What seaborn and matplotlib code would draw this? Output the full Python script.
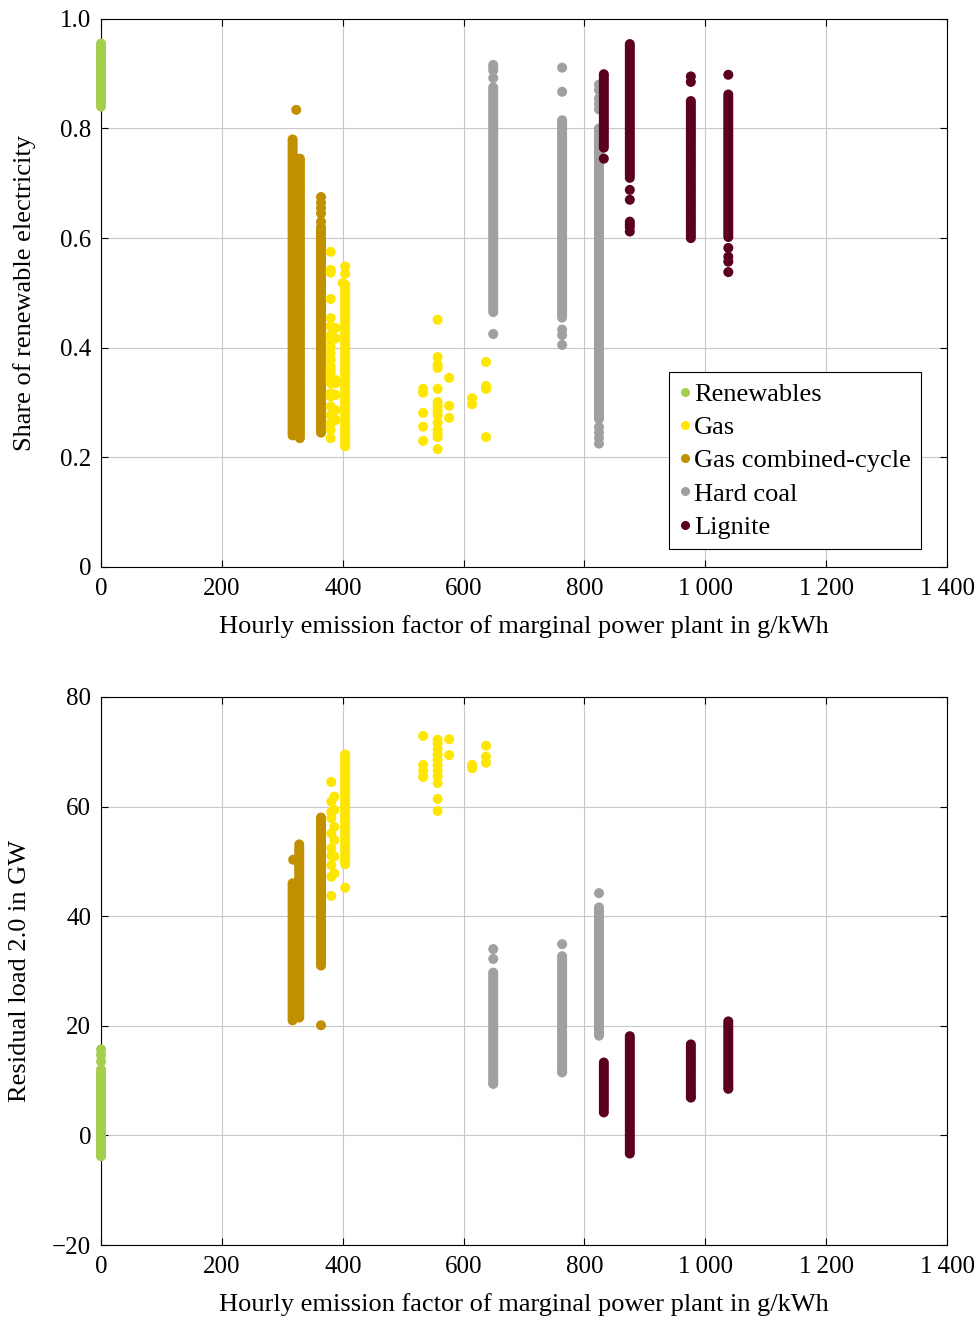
import matplotlib
matplotlib.use("Agg")
import matplotlib.pyplot as plt
import pandas as pd
import seaborn as sns
from matplotlib.lines import Line2D

# ---------------- categories / colours ----------------
labels = ["Renewables", "Gas", "Gas combined-cycle", "Hard coal", "Lignite"]
colors = ["#a6ce4e", "#ffe600", "#c09000", "#a0a0a0", "#5c001f"]

x_ticks = [0, 200, 400, 600, 800, 1000, 1200, 1400]
x_tick_labels = ["0", "200", "400", "600", "800", "1\u2009000", "1\u2009200", "1\u2009400"]
share_ticks = [0, 0.2, 0.4, 0.6, 0.8, 1.0]
share_tick_labels = ["0", "0.2", "0.4", "0.6", "0.8", "1.0"]
load_ticks = [-20, 0, 20, 40, 60, 80]
load_tick_labels = ["\u221220", "0", "20", "40", "60", "80"]

# ---------------- top panel: share of renewable electricity ----------------
ren_x_top = [0]
ren_share = [[.840, .845, .850, .855, .860, .865, .870, .875, .880, .885, .890, .895, .900, .905,
              .910, .915, .920, .925, .930, .935, .940, .945, .950, .955]]

gcc_x_top = [317, 329, 323, 364]
gcc_share = [
    [.240, .245, .250, .255, .260, .265, .270, .275, .280, .285, .290, .295, .300, .305, .310, .315,
     .320, .325, .330, .335, .340, .345, .350, .355, .360, .365, .370, .375, .380, .385, .390, .395,
     .400, .405, .410, .415, .420, .425, .430, .435, .440, .445, .450, .455, .460, .465, .470, .475,
     .480, .485, .490, .495, .500, .505, .510, .515, .520, .525, .530, .535, .540, .545, .550, .555,
     .560, .565, .570, .575, .580, .585, .590, .595, .600, .605, .610, .615, .620, .625, .630, .635,
     .640, .645, .650, .655, .660, .665, .670, .675, .680, .685, .690, .695, .700, .705, .710, .715,
     .720, .725, .730, .735, .740, .745, .750, .755, .760, .765, .770, .775, .780],
    [.235, .240, .245, .250, .255, .260, .265, .270, .275, .280, .285, .290, .295, .300, .305, .310,
     .315, .320, .325, .330, .335, .340, .345, .350, .355, .360, .365, .370, .375, .380, .385, .390,
     .395, .400, .405, .410, .415, .420, .425, .430, .435, .440, .445, .450, .455, .460, .465, .470,
     .475, .480, .485, .490, .495, .500, .505, .510, .515, .520, .525, .530, .535, .540, .545, .550,
     .555, .560, .565, .570, .575, .580, .585, .590, .595, .600, .605, .610, .615, .620, .625, .630,
     .635, .640, .645, .650, .655, .660, .665, .670, .675, .680, .685, .690, .695, .700, .705, .710,
     .715, .720, .725, .730, .735, .740, .745],
    [.834],
    [.675, .665, .655, .645, .630, .620, .615, .610, .605, .600, .595, .590, .585, .580, .575, .570,
     .565, .560, .555, .550, .545, .540, .535, .530, .525, .520, .515, .510, .505, .500, .495, .490,
     .485, .480, .475, .470, .465, .460, .455, .450, .445, .440, .435, .430, .425, .420, .415, .410,
     .405, .400, .395, .390, .385, .380, .375, .370, .365, .360, .355, .350, .345, .340, .335, .330,
     .325, .320, .315, .310, .305, .300, .295, .290, .285, .280, .275, .270, .265, .260, .255, .250,
     .245],
]

gas_x_top = [380, 388, 404, 400, 533, 557, 576, 614, 637]
gas_share = [
    [.575, .542, .537, .489, .454, .439, .423, .414, .402, .390, .378, .366, .360, .353, .347, .341,
     .335, .317, .311, .293, .277, .262, .250, .235],
    [.436, .417, .341, .335, .314, .286, .268],
    [.548, .535, .515, .510, .505, .500, .495, .490, .485, .480, .475, .470, .465, .460, .455, .450,
     .445, .440, .435, .430, .425, .420, .415, .410, .405, .400, .395, .390, .385, .380, .375, .370,
     .365, .360, .355, .350, .345, .340, .335, .330, .325, .320, .315, .310, .305, .300, .295, .290,
     .285, .280, .275, .270, .265, .260, .255, .250, .245, .240, .235, .230, .225, .220],
    [.518],
    [.325, .318, .281, .256, .230],
    [.451, .383, .369, .363, .325, .301, .293, .285, .277, .263, .250, .243, .237, .215],
    [.345, .294, .272],
    [.308, .297],
    [.374, .330, .325, .237],
]

hc_x_top = [649, 763, 824]
hc_share = [
    [.916, .912, .906, .892, .875, .870, .865, .860, .855, .850, .845, .840, .835, .830, .825, .820,
     .815, .810, .805, .800, .795, .790, .785, .780, .775, .770, .765, .760, .755, .750, .745, .740,
     .735, .730, .725, .720, .715, .710, .705, .700, .695, .690, .685, .680, .675, .670, .665, .660,
     .655, .650, .645, .640, .635, .630, .625, .620, .615, .610, .605, .600, .595, .590, .585, .580,
     .575, .570, .565, .560, .555, .550, .545, .540, .535, .530, .525, .520, .515, .510, .505, .500,
     .495, .490, .485, .480, .475, .470, .465, .425],
    [.911, .867, .815, .810, .805, .800, .795, .790, .785, .780, .775, .770, .765, .760, .755, .750,
     .745, .740, .735, .730, .725, .720, .715, .710, .705, .700, .695, .690, .685, .680, .675, .670,
     .665, .660, .655, .650, .645, .640, .635, .630, .625, .620, .615, .610, .605, .600, .595, .590,
     .585, .580, .575, .570, .565, .560, .555, .550, .545, .540, .535, .530, .525, .520, .515, .510,
     .505, .500, .495, .490, .485, .480, .475, .470, .465, .460, .455, .433, .423, .405],
    [.880, .870, .855, .845, .835, .800, .795, .790, .785, .780, .775, .770, .765, .760, .755, .750,
     .745, .740, .735, .730, .725, .720, .715, .710, .705, .700, .695, .690, .685, .680, .675, .670,
     .665, .660, .655, .650, .645, .640, .635, .630, .625, .620, .615, .610, .605, .600, .595, .590,
     .585, .580, .575, .570, .565, .560, .555, .550, .545, .540, .535, .530, .525, .520, .515, .510,
     .505, .500, .495, .490, .485, .480, .475, .470, .465, .460, .455, .450, .445, .440, .435, .430,
     .425, .420, .415, .410, .405, .400, .395, .390, .385, .380, .375, .370, .365, .360, .355, .350,
     .345, .340, .335, .330, .325, .320, .315, .310, .305, .300, .295, .290, .285, .280, .275, .270,
     .255, .245, .235, .225],
]

lig_x_top = [832, 875, 976, 1038]
lig_share = [
    [.899, .895, .890, .885, .880, .875, .870, .865, .860, .855, .850, .845, .840, .835, .830, .825,
     .820, .815, .810, .805, .800, .795, .790, .785, .780, .775, .770, .765, .745],
    [.954, .950, .945, .940, .935, .930, .925, .920, .915, .910, .905, .900, .895, .890, .885, .880,
     .875, .870, .865, .860, .855, .850, .845, .840, .835, .830, .825, .820, .815, .810, .805, .800,
     .795, .790, .785, .780, .775, .770, .765, .760, .755, .750, .745, .740, .735, .730, .725, .720,
     .715, .710, .688, .670, .630, .625, .620, .612],
    [.895, .885, .850, .845, .840, .835, .830, .825, .820, .815, .810, .805, .800, .795, .790, .785,
     .780, .775, .770, .765, .760, .755, .750, .745, .740, .735, .730, .725, .720, .715, .710, .705,
     .700, .695, .690, .685, .680, .675, .670, .665, .660, .655, .650, .645, .640, .635, .630, .625,
     .620, .615, .610, .605, .600],
    [.898, .862, .857, .852, .847, .842, .837, .832, .827, .822, .817, .812, .807, .802, .797, .792,
     .787, .782, .777, .772, .767, .762, .757, .752, .747, .742, .737, .732, .727, .722, .717, .712,
     .707, .702, .697, .692, .687, .682, .677, .672, .667, .662, .657, .652, .647, .642, .637, .632,
     .627, .622, .617, .612, .607, .602, .582, .566, .557, .538],
]

# ---------------- bottom panel: residual load 2.0 in GW ----------------
ren_x_bot = [0]
ren_load = [[15.7, 14.7, 13.5, 12.0, 11.5, 11.0, 10.5, 10.0, 9.5, 9.0, 8.5, 8.0, 7.5, 7.0, 6.5,
             6.0, 5.5, 5.0, 4.5, 4.0, 3.5, 3.0, 2.5, 2.0, 1.5, 1.0, 0.5, 0.0, -0.5, -1.0, -1.5,
             -2.0, -2.5, -3.0, -3.5, -3.8]]

gcc_x_bot = [317, 328, 318, 364]
gcc_load = [
    [21.0, 21.5, 22.0, 22.5, 23.0, 23.5, 24.0, 24.5, 25.0, 25.5, 26.0, 26.5, 27.0, 27.5, 28.0, 28.5,
     29.0, 29.5, 30.0, 30.5, 31.0, 31.5, 32.0, 32.5, 33.0, 33.5, 34.0, 34.5, 35.0, 35.5, 36.0, 36.5,
     37.0, 37.5, 38.0, 38.5, 39.0, 39.5, 40.0, 40.5, 41.0, 41.5, 42.0, 42.5, 43.0, 43.5, 44.0, 44.5,
     45.0, 45.5, 46.0],
    [21.5, 22.0, 22.5, 23.0, 23.5, 24.0, 24.5, 25.0, 25.5, 26.0, 26.5, 27.0, 27.5, 28.0, 28.5, 29.0,
     29.5, 30.0, 30.5, 31.0, 31.5, 32.0, 32.5, 33.0, 33.5, 34.0, 34.5, 35.0, 35.5, 36.0, 36.5, 37.0,
     37.5, 38.0, 38.5, 39.0, 39.5, 40.0, 40.5, 41.0, 41.5, 42.0, 42.5, 43.0, 43.5, 44.0, 44.5, 45.0,
     45.5, 46.0, 46.5, 47.0, 47.5, 48.0, 48.5, 49.0, 49.5, 50.0, 50.5, 51.0, 51.5, 52.0, 52.5, 53.1],
    [50.3],
    [58.0, 57.5, 57.0, 56.5, 56.0, 55.5, 55.0, 54.5, 54.0, 53.5, 53.0, 52.5, 52.0, 51.5, 51.0, 50.5,
     50.0, 49.5, 49.0, 48.5, 48.0, 47.5, 47.0, 46.5, 46.0, 45.5, 45.0, 44.5, 44.0, 43.5, 43.0, 42.5,
     42.0, 41.5, 41.0, 40.5, 40.0, 39.5, 39.0, 38.5, 38.0, 37.5, 37.0, 36.5, 36.0, 35.5, 35.0, 34.5,
     34.0, 33.5, 33.0, 32.5, 32.0, 31.5, 31.0, 20.1],
]

gas_x_bot = [381, 386, 404, 533, 557, 576, 614, 637]
gas_load = [
    [64.5, 60.9, 59.0, 57.9, 55.1, 52.4, 51.0, 49.3, 47.2, 43.7],
    [61.8, 59.4, 56.3, 53.9, 50.9, 47.8],
    [69.5, 69.0, 68.5, 68.0, 67.5, 67.0, 66.5, 66.0, 65.5, 65.0, 64.5, 64.0, 63.5, 63.0, 62.5, 62.0,
     61.5, 61.0, 60.5, 60.0, 59.5, 59.0, 58.5, 58.0, 57.5, 57.0, 56.5, 56.0, 55.5, 55.0, 54.5, 54.0,
     53.5, 53.0, 52.5, 52.0, 51.5, 51.0, 50.5, 50.0, 49.5, 45.2],
    [72.9, 67.6, 66.5, 65.4],
    [72.2, 71.5, 70.5, 69.5, 68.5, 67.5, 66.5, 65.5, 64.3, 61.4, 59.2],
    [72.3, 69.4],
    [67.6, 67.0],
    [71.1, 69.1, 68.0],
]

hc_x_bot = [649, 763, 824]
hc_load = [
    [34.0, 32.2, 29.7, 29.2, 28.7, 28.2, 27.7, 27.2, 26.7, 26.2, 25.7, 25.2, 24.7, 24.2, 23.7, 23.2,
     22.7, 22.2, 21.7, 21.2, 20.7, 20.2, 19.7, 19.2, 18.7, 18.2, 17.7, 17.2, 16.7, 16.2, 15.7, 15.2,
     14.7, 14.2, 13.7, 13.2, 12.7, 12.2, 11.7, 11.2, 10.7, 10.2, 9.7, 9.4],
    [34.9, 32.7, 32.2, 31.7, 31.2, 30.7, 30.2, 29.7, 29.2, 28.7, 28.2, 27.7, 27.2, 26.7, 26.2, 25.7,
     25.2, 24.7, 24.2, 23.7, 23.2, 22.7, 22.2, 21.7, 21.2, 20.7, 20.2, 19.7, 19.2, 18.7, 18.2, 17.7,
     17.2, 16.7, 16.2, 15.7, 15.2, 14.7, 14.2, 13.7, 13.2, 12.7, 12.2, 11.7, 11.5],
    [44.2, 41.6, 41.1, 40.6, 40.1, 39.6, 39.1, 38.6, 38.1, 37.6, 37.1, 36.6, 36.1, 35.6, 35.1, 34.6,
     34.1, 33.6, 33.1, 32.6, 32.1, 31.6, 31.1, 30.6, 30.1, 29.6, 29.1, 28.6, 28.1, 27.6, 27.1, 26.6,
     26.1, 25.6, 25.1, 24.6, 24.1, 23.6, 23.1, 22.6, 22.1, 21.6, 21.1, 20.6, 20.1, 19.6, 19.1, 18.6,
     18.2],
]

lig_x_bot = [832, 875, 976, 1038]
lig_load = [
    [13.3, 12.8, 12.3, 11.8, 11.3, 10.8, 10.3, 9.8, 9.3, 8.8, 8.3, 7.8, 7.3, 6.8, 6.3, 5.8, 5.3,
     4.8, 4.2],
    [18.1, 17.6, 17.1, 16.6, 16.1, 15.6, 15.1, 14.6, 14.1, 13.6, 13.1, 12.6, 12.1, 11.6, 11.1, 10.6,
     10.1, 9.6, 9.1, 8.6, 8.1, 7.6, 7.1, 6.6, 6.1, 5.6, 5.1, 4.6, 4.1, 3.6, 3.1, 2.6, 2.1, 1.6, 1.1,
     0.6, 0.1, -0.4, -0.9, -1.4, -1.9, -2.4, -2.9, -3.3],
    [16.6, 16.1, 15.6, 15.1, 14.6, 14.1, 13.6, 13.1, 12.6, 12.1, 11.6, 11.1, 10.6, 10.1, 9.6, 9.1,
     8.6, 8.1, 7.6, 7.1, 6.9],
    [20.8, 20.3, 19.8, 19.3, 18.8, 18.3, 17.8, 17.3, 16.8, 16.3, 15.8, 15.3, 14.8, 14.3, 13.8, 13.3,
     12.8, 12.3, 11.8, 11.3, 10.8, 10.3, 9.8, 9.3, 8.8, 8.5],
]


def build(groups, value_name):
    rows = []
    for label, xs, cols in groups:
        for x, col in zip(xs, cols):
            for v in col:
                rows.append((label, x, v))
    return pd.DataFrame(rows, columns=["type", "emission", value_name])


# drawing order: gas CC below gas, lignite on top
df_top = build([
    ("Renewables", ren_x_top, ren_share),
    ("Gas combined-cycle", gcc_x_top, gcc_share),
    ("Gas", gas_x_top, gas_share),
    ("Hard coal", hc_x_top, hc_share),
    ("Lignite", lig_x_top, lig_share),
], "share")

df_bot = build([
    ("Renewables", ren_x_bot, ren_load),
    ("Gas combined-cycle", gcc_x_bot, gcc_load),
    ("Gas", gas_x_bot, gas_load),
    ("Hard coal", hc_x_bot, hc_load),
    ("Lignite", lig_x_bot, lig_load),
], "load")

# ---------------- styling ----------------
sns.set_theme(style="whitegrid")
plt.rcParams["font.family"] = ["Liberation Serif", "DejaVu Serif"]
plt.rcParams["axes.unicode_minus"] = True

palette = dict(zip(labels, colors))
FS_TICK = 18
FS_LAB = 19

fig = plt.figure(figsize=(9.8, 13.2), dpi=100)
ax1 = fig.add_axes([0.1031, 0.5705, 0.8633, 0.4152])
ax2 = fig.add_axes([0.1031, 0.0568, 0.8633, 0.4152])

sns.scatterplot(data=df_top, x="emission", y="share", hue="type", hue_order=labels,
                palette=palette, s=52, linewidth=0, edgecolor="none", ax=ax1,
                legend=False, clip_on=False, zorder=3)
sns.scatterplot(data=df_bot, x="emission", y="load", hue="type", hue_order=labels,
                palette=palette, s=52, linewidth=0, edgecolor="none", ax=ax2,
                legend=False, clip_on=False, zorder=3)

for ax, yt, ytl, ylim, ylab, ylpad in [
    (ax1, share_ticks, share_tick_labels, (0, 1), "Share of renewable electricity", 17),
    (ax2, load_ticks, load_tick_labels, (-20, 80), "Residual load 2.0 in GW", 15),
]:
    ax.set_xlim(0, 1400)
    ax.set_ylim(*ylim)
    ax.set_xticks(x_ticks)
    ax.set_xticklabels(x_tick_labels)
    ax.set_yticks(yt)
    ax.set_yticklabels(ytl)
    ax.set_facecolor("white")
    ax.grid(True, color="#c8c8c8", linewidth=0.8)
    ax.set_axisbelow(True)
    for sp in ax.spines.values():
        sp.set_visible(True)
        sp.set_color("black")
        sp.set_linewidth(0.8)
    ax.tick_params(axis="both", which="major", direction="in", length=5, width=0.8,
                   color="black", labelcolor="black", labelsize=FS_TICK,
                   bottom=True, top=True, left=True, right=True)
    ax.tick_params(axis="x", pad=8)
    ax.tick_params(axis="y", pad=7)
    ax.set_xlabel("Hourly emission factor of marginal power plant in g/kWh", fontsize=FS_LAB,
                  labelpad=11, color="black")
    ax.set_ylabel(ylab, fontsize=FS_LAB, labelpad=ylpad, color="black")

handles = [Line2D([], [], marker="o", linestyle="", color=c, markersize=5.5) for c in colors]
leg = ax1.legend(handles, labels, loc="lower right", bbox_to_anchor=(0.969, 0.033),
                 frameon=True, fancybox=False, edgecolor="black", framealpha=1, fontsize=FS_LAB,
                 handlelength=0.4, handletextpad=0.15, labelspacing=0.37, borderpad=0.38,
                 borderaxespad=0)
leg.get_frame().set_linewidth(0.8)
for t in leg.get_texts():
    t.set_color("black")

fig.savefig("out.png", dpi=100)
